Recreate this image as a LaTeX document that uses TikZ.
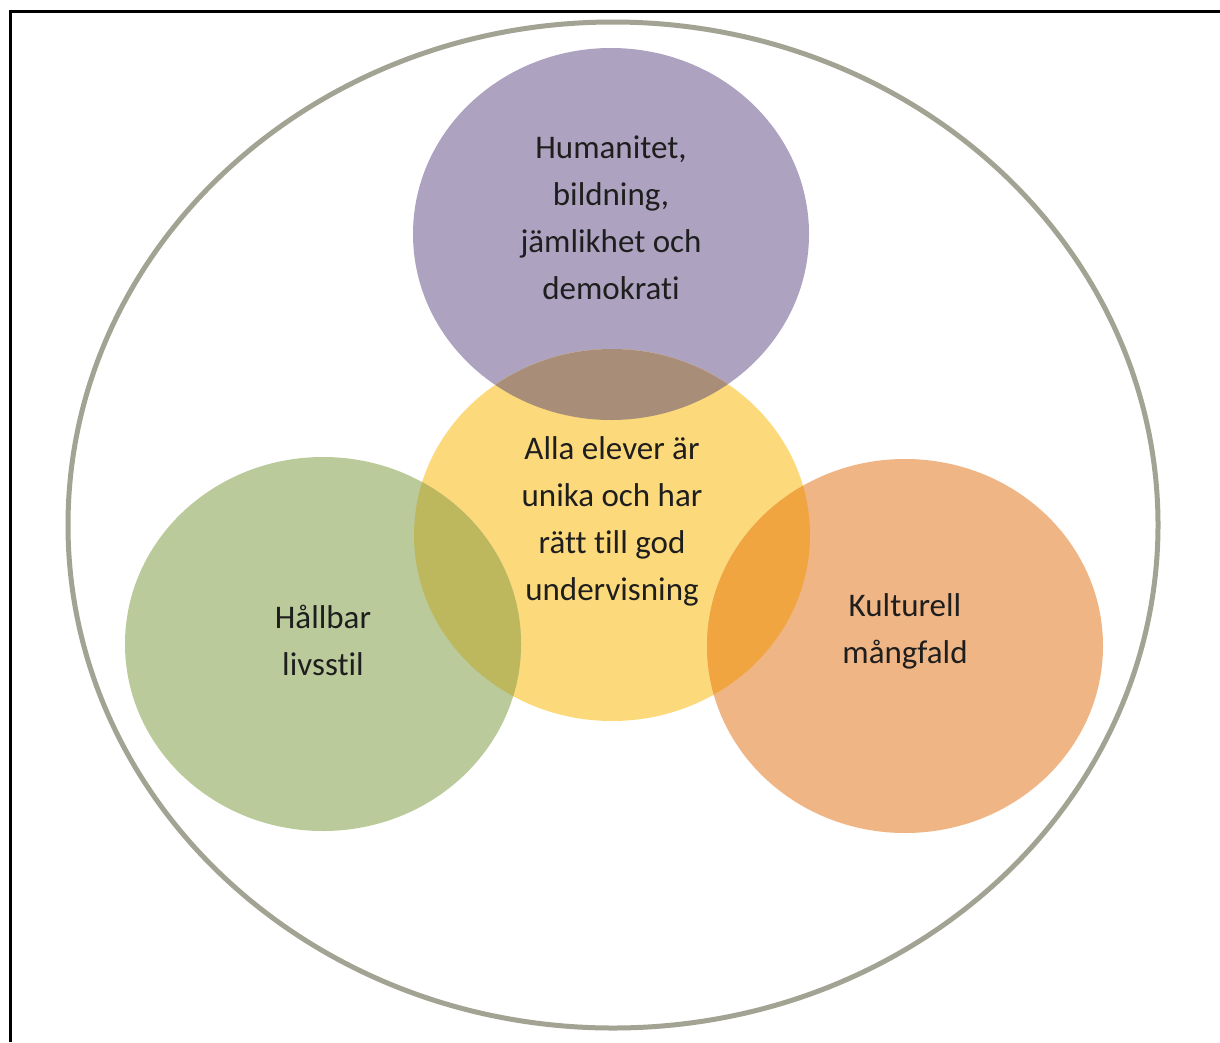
\documentclass[tikz,border=0pt]{standalone}
\usepackage{fontspec}
\setmainfont{Carlito}[Ligatures={NoCommon}]
\definecolor{cpurple}{RGB}{173,162,191}
\definecolor{cyellow}{RGB}{252,217,122}
\definecolor{cgreen}{RGB}{187,202,155}
\definecolor{corange}{RGB}{240,181,132}
\definecolor{cpy}{RGB}{168,142,120}
\definecolor{cgy}{RGB}{189,183,94}
\definecolor{coy}{RGB}{240,165,64}
\definecolor{cring}{RGB}{163,163,148}
\definecolor{ctext}{RGB}{30,30,30}
\begin{document}
\begin{tikzpicture}[x=1pt,y=-1pt,
  lbl/.style={align=center,text=ctext,font=\fontsize{33}{47}\selectfont,inner sep=0pt}]
\useasboundingbox (0,0) rectangle (1220,1042);
\fill[white] (0,0) rectangle (1220,1042);
\draw[line width=3pt] (10,1042) -- (10,11) -- (1220,11);
\draw[cring,line width=5pt] (613,525) ellipse [x radius=545, y radius=503];
% circles
\fill[cpurple] (611,234) ellipse [x radius=198, y radius=186];
\fill[cyellow] (612,535) ellipse [x radius=198, y radius=186];
\fill[cgreen] (323,644) ellipse [x radius=198, y radius=187];
\fill[corange] (905,646) ellipse [x radius=198, y radius=187];
% overlaps
\begin{scope}
  \clip (611,234) ellipse [x radius=198, y radius=186];
  \fill[cpy] (612,535) ellipse [x radius=198, y radius=186];
\end{scope}
\begin{scope}
  \clip (323,644) ellipse [x radius=198, y radius=187];
  \fill[cgy] (612,535) ellipse [x radius=198, y radius=186];
\end{scope}
\begin{scope}
  \clip (905,646) ellipse [x radius=198, y radius=187];
  \fill[coy] (612,535) ellipse [x radius=198, y radius=186];
\end{scope}
% labels
\node[lbl] (top) at (611,218) {Humanitet,\\bildning,\\jämlikhet och\\demokrati};
\node[lbl] (mid) at (612,521) {Alla elever är\\unika och har\\rätt till god\\undervisning};
\node[lbl] (left) at (323,640) {Hållbar\\livsstil};
\node[lbl] (right) at (905,631) {Kulturell\\mångfald};
\end{tikzpicture}
\end{document}
